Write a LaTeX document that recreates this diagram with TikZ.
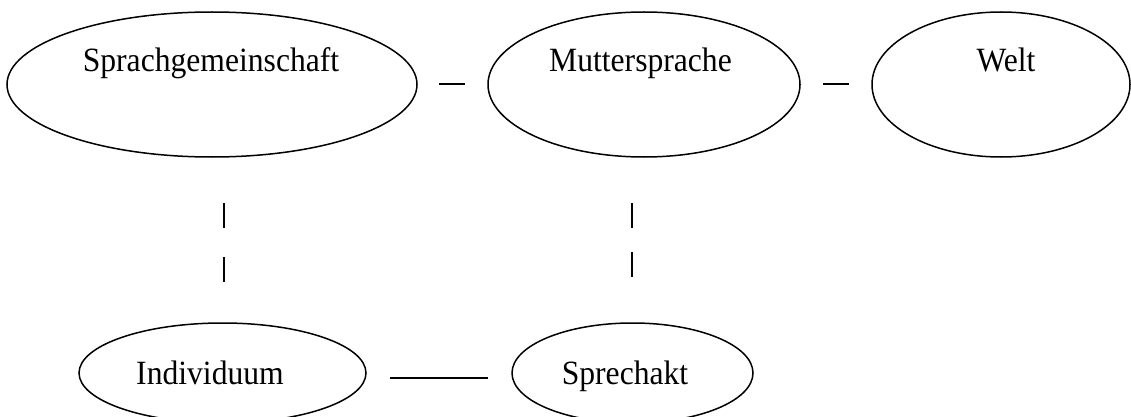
\documentclass[tikz,border=0pt]{standalone}
\usepackage{fontspec}
\setmainfont{Liberation Serif}[FakeStretch=0.93]
\usetikzlibrary{shapes.geometric}
\begin{document}
\begin{tikzpicture}[x=1pt,y=-1pt,
  oval/.style={draw,ellipse,line width=1.5pt,inner sep=0pt,minimum width=#1},
  topoval/.style={oval=#1,minimum height=145pt},
  lowoval/.style={oval=#1,minimum height=100pt},
  lbl/.style={anchor=base,inner sep=0pt,font=\fontsize{34}{38}\selectfont},
  link/.style={line width=1.8pt}]
\useasboundingbox (0,0) rectangle (1131,417);
\clip (0,0) rectangle (1131,417);
% ellipses
\node[topoval=410pt] (sg) at (212,84.5) {};
\node[topoval=312pt] (ms) at (644,84.5) {};
\node[topoval=258pt] (welt) at (1001,84.5) {};
\node[lowoval=287pt] (ind) at (222.5,373) {};
\node[lowoval=241pt] (spa) at (632.5,373) {};
% labels
\node[lbl] (tsg) at (211,72) {Sprachgemeinschaft};
\node[lbl] (tms) at (640.5,72) {Muttersprache};
\node[lbl] (twelt) at (1006,72) {Welt};
\node[lbl] (tind) at (210,384) {Individuum};
\node[lbl] (tspa) at (625,384) {Sprechakt};
% connector end points
\coordinate (a1) at (439,84);  \coordinate (a2) at (465,84);
\coordinate (b1) at (823,84);  \coordinate (b2) at (849,84);
\coordinate (c1) at (224,203); \coordinate (c2) at (224,282);
\coordinate (e1) at (632,203); \coordinate (e2) at (632,277);
\coordinate (f1) at (390,378); \coordinate (f2) at (488,378);
% connectors
\draw[link] (a1) -- (a2);
\draw[link] (b1) -- (b2);
\draw[link,dash pattern=on 25pt off 29pt] (c1) -- (c2);
\draw[link,dash pattern=on 25pt off 24pt] (e1) -- (e2);
\draw[link] (f1) -- (f2);
\end{tikzpicture}
\end{document}
